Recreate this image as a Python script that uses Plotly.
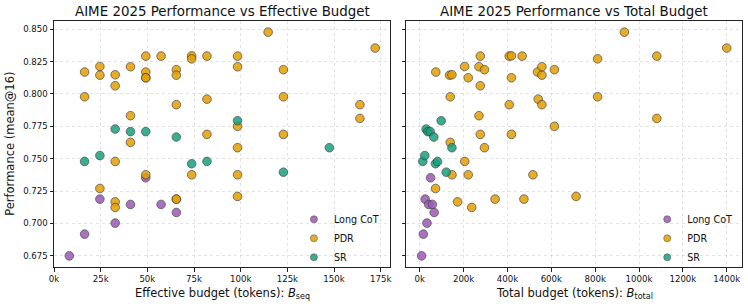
import plotly.graph_objects as go

# ---------------- data (tokens / performance mean@16) ----------------
long_eff = [8192, 16384, 24576, 32768, 40960, 49152, 57344, 65536]
long_total = [8192, 16384, 24576, 32768, 40960, 49152, 57344, 65536]
long_perf = [0.675, 0.6918, 0.7188, 0.7003, 0.7147, 0.7353, 0.7147, 0.7085]

pdr_eff = [16384, 24576, 24576, 32768, 32768, 40960, 49152, 49152, 49152, 57344,
           65536, 65536, 73728, 73728, 81920, 98304, 98304, 114688, 122880, 172032,
           16384, 81920, 122880, 65536, 163840, 40960, 163840, 98304, 40960, 81920,
           122880, 98304, 32768, 49152, 73728, 98304, 24576, 32768, 32768, 65536,
           65536, 98304, 49152]
pdr_total = [73000, 204600, 136000, 146600, 276000, 270000, 276000, 537000, 221000, 408000,
             295000, 557000, 418000, 811000, 467000, 1081000, 557000, 933000, 614000, 1400000,
             139000, 540000, 811000, 408000, 557000, 270000, 1081000, 614000, 139000, 276000,
             418000, 295000, 205000, 147000, 221000, 516000, 72000, 172500, 237000, 343500,
             475000, 713000, 418000]
pdr_perf = [0.8169, 0.8212, 0.8145, 0.8148, 0.8063, 0.8210, 0.8292, 0.8169, 0.8125, 0.8292,
            0.8187, 0.8145, 0.8294, 0.8271, 0.8292, 0.8292, 0.8210, 0.8477, 0.8187, 0.8354,
            0.7978, 0.7960, 0.7978, 0.7917, 0.7917, 0.7832, 0.7811, 0.7750, 0.7626, 0.7688,
            0.7688, 0.7585, 0.7479, 0.7376, 0.7376, 0.7376, 0.7270, 0.7167, 0.7124, 0.7188,
            0.7188, 0.7209, 0.8125]

sr_eff = [16384, 24576, 32768, 40960, 49152, 65536, 73728, 81920, 98304, 122880, 147456]
sr_total = [13700, 22900, 29000, 36600, 47300, 64000, 71800, 81000, 97700, 120600, 146600]
sr_perf = [0.7479, 0.7524, 0.7729, 0.7709, 0.7709, 0.7667, 0.7461, 0.7479, 0.7793, 0.7396, 0.7585]

series = [
    ("Long CoT", long_eff, long_total, long_perf, "#9b59b6"),
    ("PDR", pdr_eff, pdr_total, pdr_perf, "#e69f00"),
    ("SR", sr_eff, sr_total, sr_perf, "#17a07d"),
]

left_ticks = [0, 25, 50, 75, 100, 125, 150, 175]
right_ticks = [0, 200, 400, 600, 800, 1000, 1200, 1400]
y_ticks = [0.675, 0.7, 0.725, 0.75, 0.775, 0.8, 0.825, 0.85]

FONT = "DejaVu Sans"
W, H = 748, 306
ML, MR, MT, MB = 54.3, 6.3, 21, 39.3
PW, PH = W - ML - MR, H - MT - MB


def px_x(p):
    return (p - ML) / PW


def px_y(p):
    return (H - MB - p) / PH


fig = go.Figure()

for name, eff, tot, perf, col in series:
    mk = dict(size=8.6, color=col, opacity=0.85, line=dict(width=0.8, color="#3a3a3a"))
    fig.add_trace(go.Scatter(x=[v / 1000 for v in eff], y=perf, mode="markers", marker=mk,
                             name=name, showlegend=False, xaxis="x", yaxis="y"))
    fig.add_trace(go.Scatter(x=[v / 1000 for v in tot], y=perf, mode="markers", marker=mk,
                             name=name, showlegend=False, xaxis="x2", yaxis="y2"))

# legend-only entries (smaller markers, as in the reference)
for name, eff, tot, perf, col in series:
    mk = dict(size=7, color=col, opacity=0.85, line=dict(width=0.6, color="#3a3a3a"))
    fig.add_trace(go.Scatter(x=[None], y=[None], mode="markers", marker=mk, name=name,
                             legend="legend", xaxis="x", yaxis="y"))
    fig.add_trace(go.Scatter(x=[None], y=[None], mode="markers", marker=mk, name=name,
                             legend="legend2", xaxis="x2", yaxis="y2"))

ax_common = dict(
    showline=True, mirror=True, linecolor="#222", linewidth=1,
    ticks="outside", ticklen=3.5, tickwidth=0.8, tickcolor="#222",
    showgrid=True, gridcolor="rgba(0,0,0,0.11)", griddash="dot", gridwidth=0.8,
    zeroline=False, tickfont=dict(family=FONT, size=8.6, color="#111"),
)

d1 = (390.5 - ML) / PW
d2 = (406.3 - ML) / PW

fig.update_layout(
    width=W, height=H,
    margin=dict(l=ML, r=MR, t=MT, b=MB, autoexpand=False),
    paper_bgcolor="white", plot_bgcolor="white",
    font=dict(family=FONT, color="#111"),
    xaxis=dict(domain=[0, d1], range=[0, 180.224], tickvals=left_ticks,
               ticktext=[f"{v}k" for v in left_ticks], anchor="y", **ax_common),
    xaxis2=dict(domain=[d2, 1], range=[-61.4, 1469.6], tickvals=right_ticks,
                ticktext=[f"{v}k" for v in right_ticks], anchor="y2", **ax_common),
    yaxis=dict(domain=[0, 1], range=[0.6664, 0.8563], tickvals=y_ticks,
               ticktext=[f"{v:.3f}" for v in y_ticks], anchor="x", **ax_common),
    yaxis2=dict(domain=[0, 1], range=[0.6664, 0.8563], tickvals=y_ticks, matches="y",
                showticklabels=False, anchor="x2", **ax_common),
    legend=dict(x=px_x(294), y=px_y(238), xanchor="left", yanchor="middle", bgcolor="rgba(0,0,0,0)",
                font=dict(family=FONT, size=9.6, color="#111")),
    legend2=dict(x=px_x(647), y=px_y(238), xanchor="left", yanchor="middle", bgcolor="rgba(0,0,0,0)",
                 font=dict(family=FONT, size=9.6, color="#111")),
)

annots = [
    dict(text="AIME 2025 Performance vs Effective Budget", x=d1 / 2, y=px_y(12), size=13.4),
    dict(text="AIME 2025 Performance vs Total Budget", x=(d2 + 1) / 2, y=px_y(12), size=13.4),
    dict(text="Effective budget (tokens): <i>B</i><sub>seq</sub>", x=d1 / 2, y=px_y(293), size=11.5),
    dict(text="Total budget (tokens): <i>B</i><sub>total</sub>", x=(d2 + 1) / 2, y=px_y(293), size=11.5),
]
for a in annots:
    fig.add_annotation(text=a["text"], x=a["x"], y=a["y"], xref="paper", yref="paper",
                       xanchor="center", yanchor="middle", showarrow=False,
                       font=dict(family=FONT, size=a["size"], color="#111"))
fig.add_annotation(text="Performance (mean@16)", x=px_x(10), y=px_y(144), xref="paper", yref="paper",
                   xanchor="center", yanchor="middle", showarrow=False, textangle=-90,
                   font=dict(family=FONT, size=11.5, color="#111"))

fig.write_html("out.html", config={"displayModeBar": False},
               post_script="document.body.style.margin='0px';")
